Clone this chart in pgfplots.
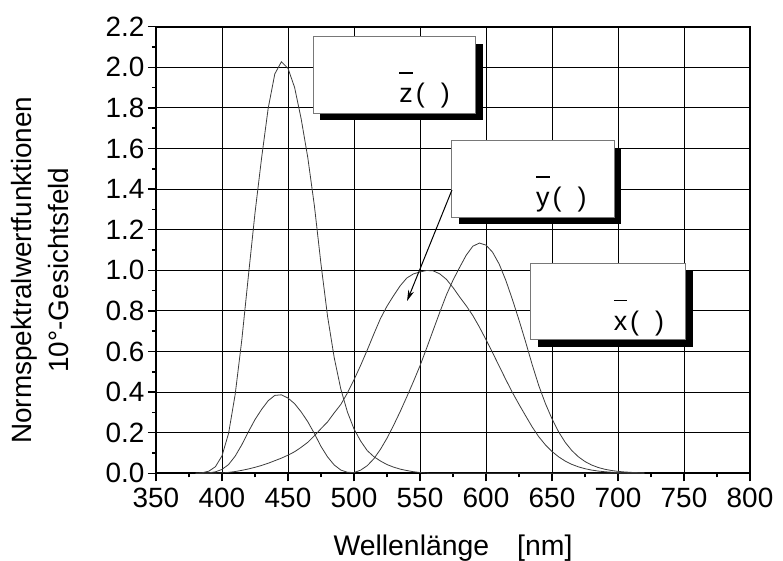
\documentclass[border=0pt]{standalone}
\usepackage{fontspec}
\setmainfont{Liberation Sans}
\usepackage{pgfplots}
\usepackage{pgfplotstable}
\pgfplotsset{compat=1.18}
\usetikzlibrary{arrows.meta,calc}
\definecolor{curve}{RGB}{60,60,60}
\definecolor{boxedge}{RGB}{120,120,120}

% letter with bar, then "( )" (the lambda is missing in the original)
\newcommand\cmflabel[1]{\setbox0\hbox{#1}\rlap{\rule[29bp]{\wd0}{1.3bp}}\box0\hspace{3bp}(\hspace{16bp})}

% CIE 1964 10 degree observer, 5 nm
\pgfplotstableread{
lam x y z
380 0.000160 0.000017 0.000705
385 0.000662 0.000072 0.002928
390 0.002362 0.000253 0.010482
395 0.007242 0.000769 0.032355
400 0.019110 0.002004 0.086011
405 0.043400 0.004509 0.197120
410 0.084736 0.008756 0.389366
415 0.140638 0.014560 0.656760
420 0.204492 0.021391 0.972542
425 0.264737 0.029497 1.282500
430 0.314679 0.038676 1.553480
435 0.357719 0.049602 1.798500
440 0.383734 0.062077 1.967280
445 0.386726 0.074704 2.027300
450 0.370702 0.089456 1.994800
455 0.342957 0.106256 1.900700
460 0.302273 0.128201 1.745370
465 0.254085 0.152761 1.554900
470 0.195618 0.185190 1.317560
475 0.132349 0.219940 1.030200
480 0.080507 0.253589 0.772125
485 0.041072 0.297665 0.570060
490 0.016172 0.339133 0.415254
495 0.005132 0.395379 0.302356
500 0.003816 0.460777 0.218502
505 0.015444 0.531360 0.159249
510 0.037465 0.606741 0.112044
515 0.071358 0.685660 0.082248
520 0.117749 0.761757 0.060709
525 0.172953 0.823330 0.043050
530 0.236491 0.875211 0.030451
535 0.304213 0.923810 0.020584
540 0.376772 0.961988 0.013676
545 0.451584 0.982200 0.007918
550 0.529826 0.991761 0.003988
555 0.616053 0.999110 0.001091
560 0.705224 0.997340 0.000000
565 0.793832 0.982380 0
570 0.878655 0.955552 0
575 0.951162 0.915175 0
580 1.014160 0.868934 0
585 1.074300 0.825623 0
590 1.118520 0.777405 0
595 1.134300 0.720353 0
600 1.123990 0.658341 0
605 1.089100 0.593878 0
610 1.030480 0.527963 0
615 0.950740 0.461834 0
620 0.856297 0.398057 0
625 0.754930 0.339554 0
630 0.647467 0.283493 0
635 0.535110 0.228254 0
640 0.431567 0.179828 0
645 0.343690 0.140211 0
650 0.268329 0.107633 0
655 0.204300 0.081187 0
660 0.152568 0.060281 0
665 0.112210 0.044096 0
670 0.081261 0.031800 0
675 0.057930 0.022602 0
680 0.040851 0.015905 0
685 0.028623 0.011130 0
690 0.019941 0.007749 0
695 0.013842 0.005375 0
700 0.009577 0.003718 0
705 0.006605 0.002565 0
710 0.004553 0.001768 0
715 0.003145 0.001222 0
720 0.002175 0.000846 0
}\cmf

\begin{document}
\begin{tikzpicture}
\begin{axis}[
    name=ax, scale only axis,
    width=594bp, height=446.6bp,
    xmin=350, xmax=800, ymin=0, ymax=2.2,
    xtick={350,400,450,500,550,600,650,700,750,800},
    ytick={0,0.2,0.4,0.6,0.8,1.0,1.2,1.4,1.6,1.8,2.0,2.2},
    minor x tick num=1, minor y tick num=1,
    tick align=outside, tick pos=left,
    major tick length=8bp, minor tick length=4bp,
    every tick/.style={black, line width=1.5bp},
    grid=major, grid style={black, line width=1bp},
    axis line style={black, line width=2bp},
    /pgf/number format/assume math mode=true,
    tick label style={font=\fontsize{28}{28}\selectfont},
    xticklabel style={yshift=-3bp},
    yticklabel style={/pgf/number format/fixed, /pgf/number format/fixed zerofill,
                      /pgf/number format/precision=1},
    xlabel={Wellenlänge\hspace{28bp}[nm]},
    xlabel style={font=\fontsize{28.5}{28.5}\selectfont,
                  at={(axis description cs:0.5,0)}, anchor=base, yshift=-81.7bp},
    ylabel={Normspektralwertfunktionen\\10°-Gesichtsfeld},
    ylabel style={font=\fontsize{28}{37}\selectfont, align=center,
                  at={(axis description cs:-0.195,0.455)}, anchor=center},
]
\addplot[curve, line width=0.8bp] table[x=lam, y=z] {\cmf};
\addplot[curve, line width=0.8bp] table[x=lam, y=x] {\cmf};
\addplot[curve, line width=0.8bp] table[x=lam, y=y] {\cmf};

% z box
\fill[black] ([xshift=7bp,yshift=-7bp]axis cs:469.2,1.7734) rectangle ([xshift=7bp,yshift=-7bp]axis cs:592.4,2.1507);
\draw[boxedge, fill=white, line width=1bp] (axis cs:469.2,1.7734) rectangle (axis cs:592.4,2.1507);
\node[anchor=base east, inner sep=0pt, font=\fontsize{27}{27}\selectfont] at (axis cs:572.7,1.8256) {\cmflabel{z}};
% y box
\fill[black] ([xshift=7bp,yshift=-7bp]axis cs:574.0,1.2611) rectangle ([xshift=7bp,yshift=-7bp]axis cs:697.2,1.6384);
\draw[boxedge, fill=white, line width=1bp] (axis cs:574.0,1.2611) rectangle (axis cs:697.2,1.6384);
\node[anchor=base east, inner sep=0pt, font=\fontsize{27}{27}\selectfont] at (axis cs:676.3,1.3133) {\cmflabel{y}};
% x box
\fill[black] ([xshift=7bp,yshift=-7bp]axis cs:633.9,0.6567) rectangle ([xshift=7bp,yshift=-7bp]axis cs:751.3,1.0345);
\draw[boxedge, fill=white, line width=1bp] (axis cs:633.9,0.6567) rectangle (axis cs:751.3,1.0345);
\node[anchor=base east, inner sep=0pt, font=\fontsize{27}{27}\selectfont] at (axis cs:735.1,0.7059) {\cmflabel{x}};
% arrow to y curve
\draw[black, line width=1bp, -{Stealth[length=11bp,width=6bp]}] (axis cs:574.2,1.3956) -- (axis cs:540.2,0.8488);
\end{axis}
\pgfresetboundingbox
\useasboundingbox ($(ax.south west)+(-156bp,-86.7bp)$) rectangle ($(ax.north east)+(33bp,26.7bp)$);
\end{tikzpicture}
\end{document}
